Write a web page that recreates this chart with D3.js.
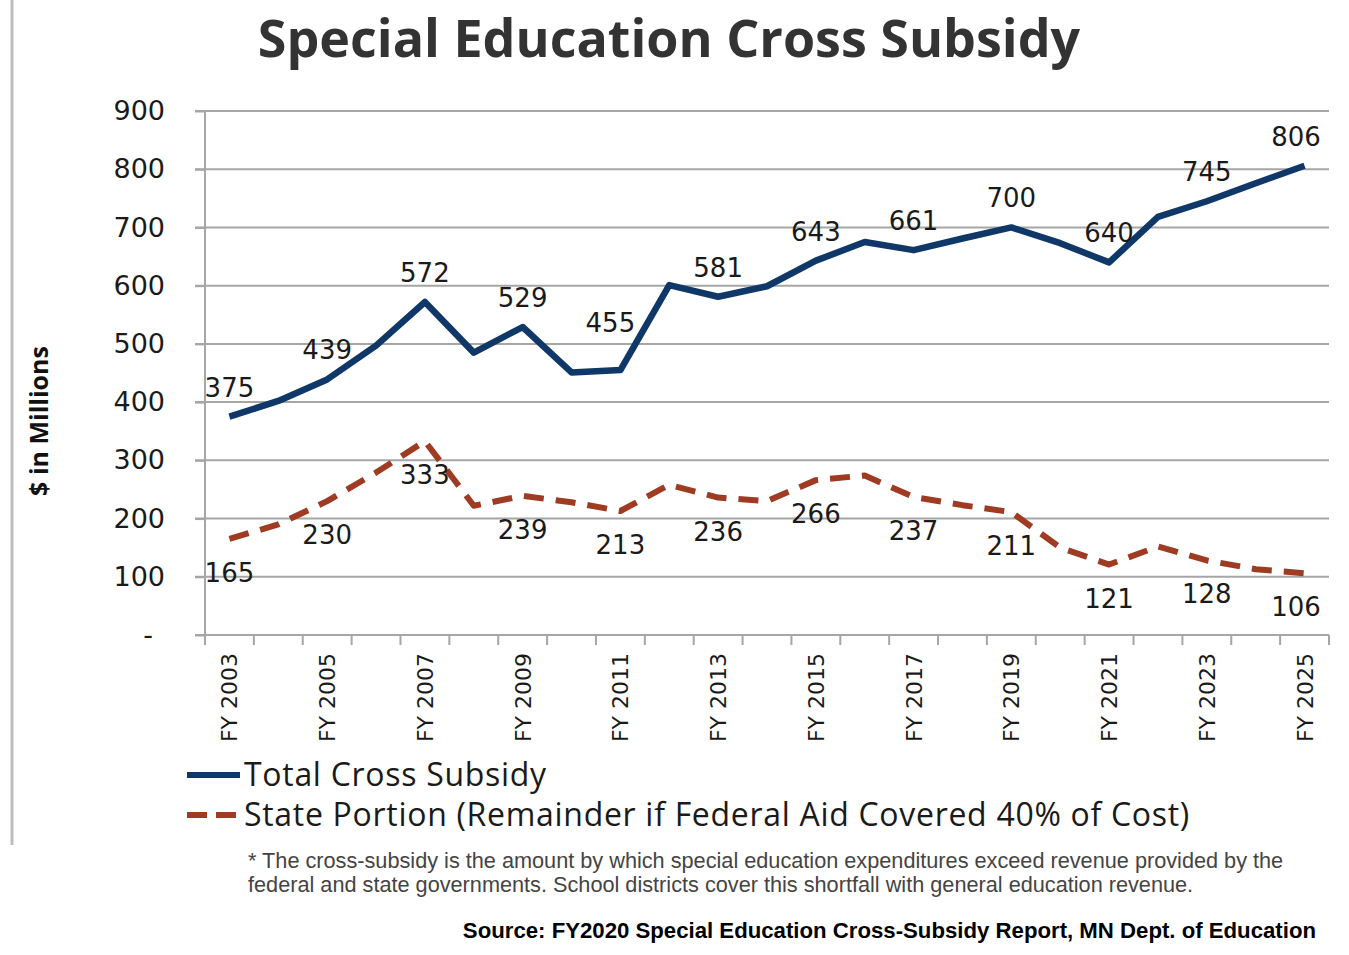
<!DOCTYPE html>
<html>
<head>
<meta charset="utf-8">
<script src="https://cdn.jsdelivr.net/npm/d3@7"></script>
<style>
  html, body { margin: 0; padding: 0; background: #fff; }
  svg { display: block; }
  .grid line { stroke: #a6a6a6; stroke-width: 2; }
  .axis path, .axis line { stroke: #a6a6a6; stroke-width: 2; }
  .num { font-family: "DejaVu Sans", Verdana, sans-serif; fill: #1a1a1a; }
</style>
</head>
<body>
<div id="chart"></div>
<script>
// fiscal years on the x axis
const years = d3.range(2003, 2026).map(y => `FY ${y}`);

// Total Cross Subsidy ($ millions)
const totalValues = [375, 402, 439, 497, 572, 485, 529, 451, 455, 601, 581, 599,
                     643, 675, 661, 681, 700, 673, 640, 718, 745, 776, 806];

// State Portion (remainder if federal aid covered 40%)
const stateValues = [165, 190, 230, 279, 333, 222, 239, 228, 213, 258, 236, 230,
                     266, 274, 237, 223, 211, 150, 121, 152, 128, 113, 106];

const yTicks = [0, 100, 200, 300, 400, 500, 600, 700, 800, 900];

const W = 1349, H = 955;
const margin = { left: 205, right: 20, top: 111, bottom: 320 };

const svg = d3.select("#chart").append("svg")
    .attr("width", W)
    .attr("height", H);

// faint page frame on the left
svg.append("line")
    .attr("x1", 12).attr("x2", 12)
    .attr("y1", 0).attr("y2", 845)
    .attr("stroke", "#bdbdbd").attr("stroke-width", 3);

const x = d3.scaleBand()
    .domain(years)
    .range([margin.left, W - margin.right]);

const y = d3.scaleLinear()
    .domain([0, 900])
    .range([H - margin.bottom, margin.top]);

const cx = d => x(d) + x.bandwidth() / 2;

// title
svg.append("text")
    .attr("x", 669).attr("y", 57)
    .attr("text-anchor", "middle")
    .style("font-family", "'Open Sans', sans-serif")
    .style("font-weight", 700)
    .style("font-size", "52px")
    .style("fill", "#333")
    .text("Special Education Cross Subsidy");

// horizontal gridlines
svg.append("g").attr("class", "grid")
    .selectAll("line")
    .data(yTicks.filter(d => d > 0))
    .join("line")
    .attr("x1", margin.left - 10)
    .attr("x2", W - margin.right)
    .attr("y1", d => y(d))
    .attr("y2", d => y(d));

// y axis
const yAxis = svg.append("g").attr("class", "axis")
    .attr("transform", `translate(${margin.left},0)`)
    .call(d3.axisLeft(y).tickValues(yTicks).tickSize(10).tickPadding(30)
        .tickFormat(d => d === 0 ? "-" : d));
yAxis.select(".domain").attr("d", `M0,${y(900)}V${y(0)}`);
yAxis.selectAll("text")
    .attr("class", "num")
    .style("font-size", "27px");
yAxis.selectAll(".tick text").filter(d => d === 0).attr("dx", -12);

// x axis: ticks at band boundaries
const xAxisG = svg.append("g").attr("class", "axis")
    .attr("transform", `translate(0,${y(0)})`);
xAxisG.append("line")
    .attr("x1", margin.left - 10).attr("x2", W - margin.right)
    .attr("y1", 0).attr("y2", 0);
xAxisG.selectAll("line.tick")
    .data(years.concat(["end"]))
    .join("line")
    .attr("class", "tick")
    .attr("x1", (d, i) => margin.left + i * x.step())
    .attr("x2", (d, i) => margin.left + i * x.step())
    .attr("y1", 0).attr("y2", 10);
xAxisG.selectAll("text")
    .data(years.filter((d, i) => i % 2 === 0))
    .join("text")
    .attr("class", "num")
    .attr("transform", d => `translate(${cx(d) + 8},${18}) rotate(-90)`)
    .attr("text-anchor", "end")
    .style("font-size", "22px")
    .text(d => d);

// y axis title
svg.append("text")
    .attr("transform", "translate(48,421) rotate(-90)")
    .attr("text-anchor", "middle")
    .style("font-family", "'Open Sans', sans-serif")
    .style("font-weight", 700)
    .style("font-size", "25px")
    .style("fill", "#111")
    .text("$ in Millions");

// lines
const line = d3.line()
    .x((d, i) => cx(years[i]))
    .y(d => y(d));

svg.append("path")
    .datum(stateValues)
    .attr("fill", "none")
    .attr("stroke", "#9e3b22")
    .attr("stroke-width", 6)
    .attr("stroke-dasharray", "20,12")
    .attr("stroke-linejoin", "round")
    .attr("d", line);

svg.append("path")
    .datum(totalValues)
    .attr("fill", "none")
    .attr("stroke", "#0f3868")
    .attr("stroke-width", 6.5)
    .attr("stroke-linejoin", "round")
    .attr("d", line);

// data labels on odd years
const labelIdx = d3.range(0, years.length, 2);
// the 455 label sits up-left so it clears the steep climb after it
const nudgeX = i => (i === 8 ? -10 : 0);
const nudgeY = i => (i === 8 ? -18 : 0);

svg.append("g").selectAll("text")
    .data(labelIdx)
    .join("text")
    .attr("class", "num")
    .attr("x", i => Math.min(cx(years[i]), 1296) + nudgeX(i))
    .attr("y", i => y(totalValues[i]) - 20 + nudgeY(i))
    .attr("text-anchor", "middle")
    .style("font-size", "26px")
    .text(i => totalValues[i]);

svg.append("g").selectAll("text")
    .data(labelIdx)
    .join("text")
    .attr("class", "num")
    .attr("x", i => Math.min(cx(years[i]), 1296))
    .attr("y", i => y(stateValues[i]) + 43)
    .attr("text-anchor", "middle")
    .style("font-size", "26px")
    .text(i => stateValues[i]);

// legend
const legend = [
    { name: "Total Cross Subsidy", color: "#0f3868", dash: null, y: 775 },
    { name: "State Portion (Remainder if Federal Aid Covered 40% of Cost)", color: "#9e3b22", dash: "20,9", y: 815 }
];
const lg = svg.append("g").selectAll("g").data(legend).join("g");
lg.append("line")
    .attr("x1", 187).attr("x2", 240)
    .attr("y1", d => d.y).attr("y2", d => d.y)
    .attr("stroke", d => d.color)
    .attr("stroke-width", 6)
    .attr("stroke-dasharray", d => d.dash);
lg.append("text")
    .attr("x", 244)
    .attr("y", d => d.y + 11)
    .style("font-family", "'Open Sans', sans-serif")
    .style("font-size", "32px")
    .style("letter-spacing", "0.7px")
    .style("fill", "#1a1a1a")
    .text(d => d.name);

// footnote
const notes = [
    "* The cross-subsidy is the amount by which special education expenditures exceed revenue provided by the",
    "federal and state governments. School districts cover this shortfall with general education revenue."
];
svg.append("g").selectAll("text")
    .data(notes)
    .join("text")
    .attr("x", 248)
    .attr("y", (d, i) => 868 + i * 24)
    .style("font-family", "'Liberation Sans', Arial, sans-serif")
    .style("font-size", "21.7px")
    .style("fill", "#444")
    .text(d => d);

svg.append("text")
    .attr("x", 1316).attr("y", 938)
    .attr("text-anchor", "end")
    .style("font-family", "'Liberation Sans', Arial, sans-serif")
    .style("font-weight", 700)
    .style("font-size", "22.2px")
    .style("fill", "#000")
    .text("Source: FY2020 Special Education Cross-Subsidy Report, MN Dept. of Education");
</script>
</body>
</html>
